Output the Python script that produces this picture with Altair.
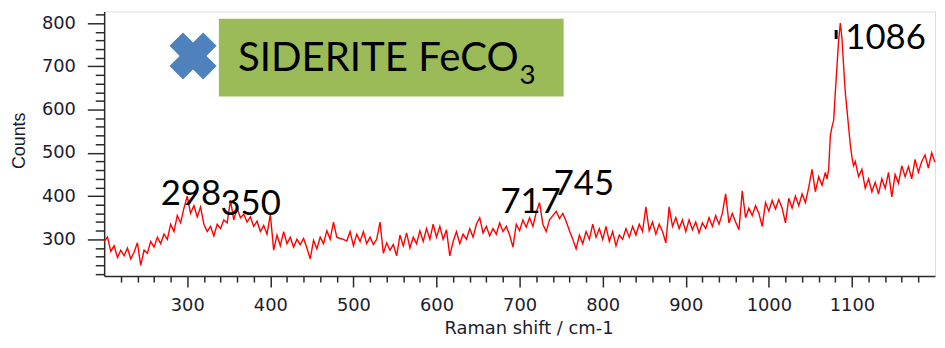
import altair as alt
import pandas as pd

# ---- spectrum (Raman shift in cm-1, counts) ----
shift_a = list(range(200, 1070, 4))      # 200 .. 1068
shift_b = list(range(1070, 1104, 2))     # 1070 .. 1102 (peak region)
shift_c = list(range(1104, 1201, 4))     # 1104 .. 1200

counts_200 = [295, 305, 272, 285, 258, 275, 262, 280, 255, 270, 292, 240, 275, 268, 295, 282, 305, 290, 312, 300, 335, 318, 355, 338, 372]
counts_300 = [400, 360, 378, 352, 375, 335, 318, 330, 308, 335, 325, 345, 338, 390, 345, 372, 350, 358, 340, 352, 330, 342, 318, 332, 312]
counts_400 = [358, 275, 310, 285, 318, 290, 305, 282, 300, 288, 302, 280, 255, 298, 278, 305, 290, 320, 300, 340, 305, 302, 300, 296, 318]
counts_500 = [285, 312, 295, 318, 290, 305, 288, 300, 340, 268, 292, 275, 288, 262, 310, 285, 315, 280, 305, 290, 320, 295, 325, 300, 335]
counts_600 = [305, 330, 300, 322, 262, 295, 318, 290, 312, 300, 325, 305, 335, 350, 315, 330, 308, 325, 312, 338, 318, 330, 310, 282, 335]
counts_700 = [320, 345, 328, 350, 330, 362, 385, 335, 318, 345, 355, 365, 348, 360, 342, 320, 300, 278, 310, 290, 318, 300, 335, 305, 325]
counts_800 = [300, 330, 295, 318, 285, 310, 300, 325, 305, 330, 310, 335, 318, 375, 320, 340, 312, 335, 318, 292, 375, 330, 350, 325, 345]
counts_900 = [318, 345, 322, 340, 315, 338, 325, 350, 330, 355, 335, 360, 405, 338, 360, 340, 322, 412, 350, 372, 355, 378, 360, 330, 385]
counts_1000 = [365, 390, 370, 392, 372, 338, 395, 372, 400, 378, 405, 385, 420, 462, 410, 445, 425, 455]
counts_peak = [440, 462, 540, 560, 575, 640, 700, 760, 800, 765, 700, 640, 600, 560, 520, 490, 470]
counts_1100 = [480, 445, 462, 418, 440, 410, 432, 405, 440, 418, 455, 398, 450, 430, 470, 445, 468, 440, 485, 455, 480, 495, 465, 500, 478]

shift = shift_a + shift_b + shift_c
counts = (counts_200 + counts_300 + counts_400 + counts_500 + counts_600 + counts_700
          + counts_800 + counts_900 + counts_1000 + counts_peak + counts_1100)

# ---- peak annotations ----
peak_labels = ["298", "350", "717", "745", "1086"]
peak_x = [268, 340, 677, 741, 1092]
peak_y = [380, 357, 362, 403, 740]

# ---- title box ----
title_text = "SIDERITE FeCO"
title_sub = "3"

spec_df = pd.DataFrame({"shift": shift, "counts": counts})
ann_df = pd.DataFrame({"shift": peak_x, "counts": peak_y, "label": peak_labels})
box_df = pd.DataFrame({"shift": [338], "shift2": [753], "counts": [630], "counts2": [810]})
title_df = pd.DataFrame({"shift": [361], "counts": [689], "label": [title_text]})
sub_df = pd.DataFrame({"shift": [700], "counts": [660], "label": [title_sub]})
cross_df = pd.DataFrame({"shift": [307], "counts": [724]})
bar_df = pd.DataFrame({"shift": [1081], "counts": [763], "counts2": [784]})

AX = "#2a2a2a"
TXT = "#1c1c2c"
major = "datum.value % 100 === 0"

x_axis = alt.Axis(
    values=list(range(220, 1200, 20)),
    tickCount=200,
    labelExpr=f"{major} ? datum.label : ''",
    format="d",
    tickSize={"condition": {"test": major, "value": 11}, "value": 6},
    grid=False, domainColor=AX, domainWidth=1.5, tickColor=AX, tickWidth=1.5,
    labelFont="DejaVu Sans", labelFontSize=18, labelColor=TXT, labelPadding=10,
    labelOverlap=False, labelFlush=False,
    title="Raman shift / cm-1", titleFont="DejaVu Sans", titleFontSize=18,
    titleFontWeight="normal", titleColor=TXT, titleX=428, titleY=58,
    titleAlign="center", titleBaseline="alphabetic",
)
y_axis = alt.Axis(
    values=list(range(220, 827, 20)),
    tickCount=200,
    labelExpr=f"{major} ? datum.label : ''",
    format="d",
    tickSize={"condition": {"test": major, "value": 17}, "value": 9},
    grid=False, domainColor=AX, domainWidth=1.5, tickColor=AX, tickWidth=1.5,
    labelFont="DejaVu Sans", labelFontSize=18, labelColor=TXT, labelPadding=12,
    labelOverlap=False, labelFlush=False,
    title="Counts", titleFont="Liberation Sans", titleFontSize=18,
    titleFontWeight="normal", titleColor=TXT, titleX=-85, titleY=130,
    titleAngle=270, titleAlign="center", titleBaseline="middle",
)

xs = alt.Scale(domain=[200, 1200], nice=False, zero=False)
ys = alt.Scale(domain=[215, 827], nice=False, zero=False)

line = alt.Chart(spec_df).mark_line(color="#ff0000", strokeWidth=1.4).encode(
    x=alt.X("shift:Q", scale=xs, axis=x_axis),
    y=alt.Y("counts:Q", scale=ys, axis=y_axis),
)

box = alt.Chart(box_df).mark_rect(color="#9bbb59").encode(
    x="shift:Q", x2="shift2:Q", y="counts:Q", y2="counts2:Q"
)

cross = alt.Chart(cross_df).mark_point(
    shape="cross", angle=45, size=2300, filled=True, color="#4f81bd", opacity=1
).encode(x="shift:Q", y="counts:Q")

title = alt.Chart(title_df).mark_text(
    font="Lato", fontSize=40.5, color="#000000", align="left", baseline="alphabetic"
).encode(x="shift:Q", y="counts:Q", text="label:N")

sub = alt.Chart(sub_df).mark_text(
    font="Lato", fontSize=28, color="#000000", align="left", baseline="alphabetic"
).encode(x="shift:Q", y="counts:Q", text="label:N")

ann = alt.Chart(ann_df).mark_text(
    font="Lato", fontSize=35, color="#000000", align="left", baseline="alphabetic"
).encode(x="shift:Q", y="counts:Q", text="label:N")

bar = alt.Chart(bar_df).mark_rule(color="#000000", strokeWidth=3).encode(
    x="shift:Q", y="counts:Q", y2="counts2:Q"
)

chart = alt.layer(line, box, cross, title, sub, ann, bar).properties(
    width=838, height=267,
    autosize=alt.AutoSizeParams(type="none"),
    padding={"left": 97, "top": 2, "right": 2, "bottom": 63},
).configure_view(stroke=None).configure(background="white")

chart.save("out.html", embed_options={"renderer": "svg", "actions": False})
